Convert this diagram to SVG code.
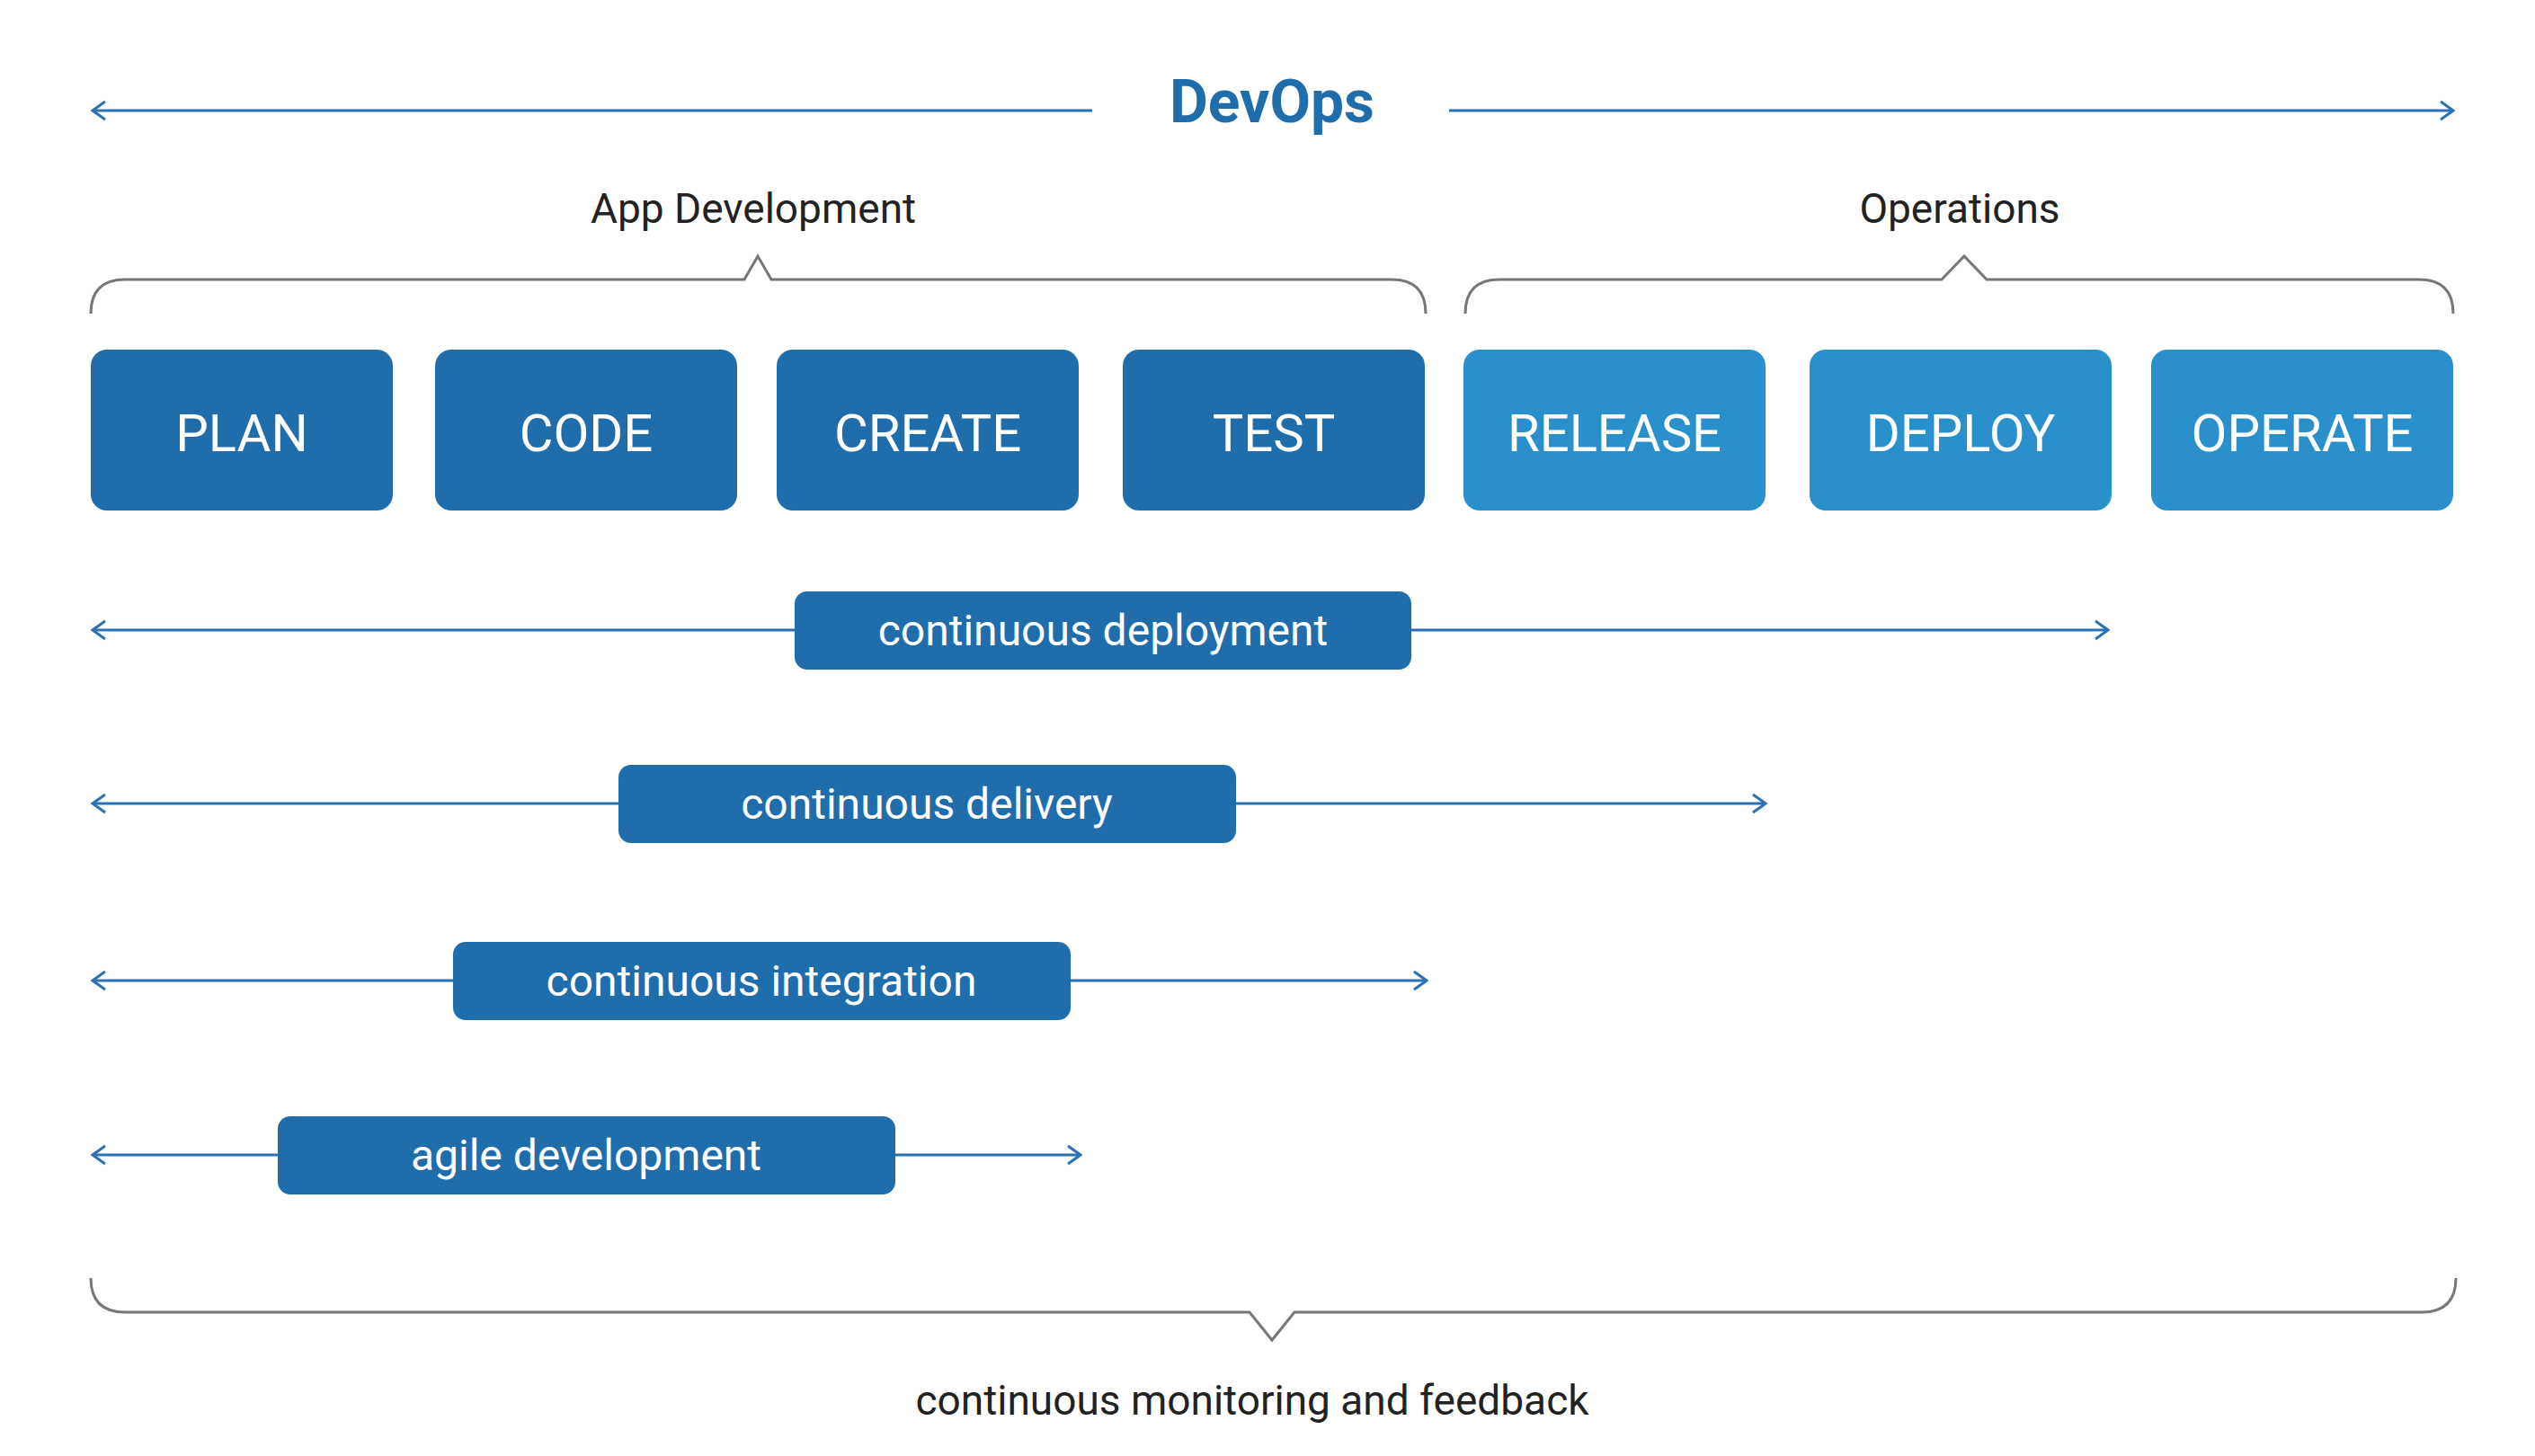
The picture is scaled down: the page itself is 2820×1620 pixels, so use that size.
<svg xmlns="http://www.w3.org/2000/svg" width="2820" height="1620" viewBox="0 0 2820 1620">
<style>
text{font-family:Roboto,"Liberation Sans",sans-serif;text-anchor:middle}
.ln{stroke:#2a72b5;stroke-width:3;fill:none}
.br{stroke:#777;stroke-width:3;fill:none}
.dk{fill:#1f6dab}.lt{fill:#2a90cc}
.bt{fill:#fff;font-size:58px}
.pt{fill:#fff;font-size:48px}
.hd{fill:#222;font-size:46px}
</style>
<defs>
<marker id="a" markerWidth="20" markerHeight="24" refX="18" refY="12" orient="auto-start-reverse" markerUnits="userSpaceOnUse"><path d="M4,2 L18,12 L4,22" fill="none" stroke="#2a72b5" stroke-width="3"/></marker>
</defs>
<g id="connectors">
<line class="ln" x1="103" y1="123" x2="1215" y2="123" marker-start="url(#a)"/>
<line class="ln" x1="1612" y1="123" x2="2729" y2="123" marker-end="url(#a)"/>
<line class="ln" x1="103" y1="701" x2="2345" y2="701" marker-start="url(#a)" marker-end="url(#a)"/>
<line class="ln" x1="103" y1="894" x2="1964" y2="894" marker-start="url(#a)" marker-end="url(#a)"/>
<line class="ln" x1="103" y1="1091" x2="1587" y2="1091" marker-start="url(#a)" marker-end="url(#a)"/>
<line class="ln" x1="103" y1="1285" x2="1202" y2="1285" marker-start="url(#a)" marker-end="url(#a)"/>
<path class="br" d="M101,349 Q101,311 139,311 L828,311 L843,285 L858,311 L1548,311 Q1586,311 1586,349"/>
<path class="br" d="M1630,349 Q1630,311 1668,311 L2160,311 L2185,285 L2210,311 L2691,311 Q2729,311 2729,349"/>
<path class="br" d="M101,1422 Q101,1460 139,1460 L1390,1460 L1415,1491 L1440,1460 L2694,1460 Q2732,1460 2732,1422"/>
</g>
<g id="title"><text x="1415" y="136" font-size="66" font-weight="bold" fill="#1f6dab">DevOps</text></g>
<g id="appdev"><text class="hd" x="838" y="248">App Development</text></g>
<g id="ops"><text class="hd" x="2180" y="248">Operations</text></g>
<g id="plan"><rect class="dk" x="101" y="389" width="336" height="179" rx="18"/><text class="bt" x="269" y="502">PLAN</text></g>
<g id="code"><rect class="dk" x="484" y="389" width="336" height="179" rx="18"/><text class="bt" x="652" y="502">CODE</text></g>
<g id="create"><rect class="dk" x="864" y="389" width="336" height="179" rx="18"/><text class="bt" x="1032" y="502">CREATE</text></g>
<g id="test"><rect class="dk" x="1249" y="389" width="336" height="179" rx="18"/><text class="bt" x="1417" y="502">TEST</text></g>
<g id="release"><rect class="lt" x="1628" y="389" width="336" height="179" rx="18"/><text class="bt" x="1796" y="502">RELEASE</text></g>
<g id="deploy"><rect class="lt" x="2013" y="389" width="336" height="179" rx="18"/><text class="bt" x="2181" y="502">DEPLOY</text></g>
<g id="operate"><rect class="lt" x="2393" y="389" width="336" height="179" rx="18"/><text class="bt" x="2561" y="502">OPERATE</text></g>
<g id="cdeploy"><rect class="dk" x="884" y="658" width="686" height="87" rx="14"/><text class="pt" x="1227" y="718">continuous deployment</text></g>
<g id="cdelivery"><rect class="dk" x="688" y="851" width="687" height="87" rx="14"/><text class="pt" x="1031" y="911">continuous delivery</text></g>
<g id="cint"><rect class="dk" x="504" y="1048" width="687" height="87" rx="14"/><text class="pt" x="847" y="1108">continuous integration</text></g>
<g id="agile"><rect class="dk" x="309" y="1242" width="687" height="87" rx="14"/><text class="pt" x="652" y="1302">agile development</text></g>
<g id="monitor"><text class="hd" x="1393" y="1574">continuous monitoring and feedback</text></g>
</svg>
